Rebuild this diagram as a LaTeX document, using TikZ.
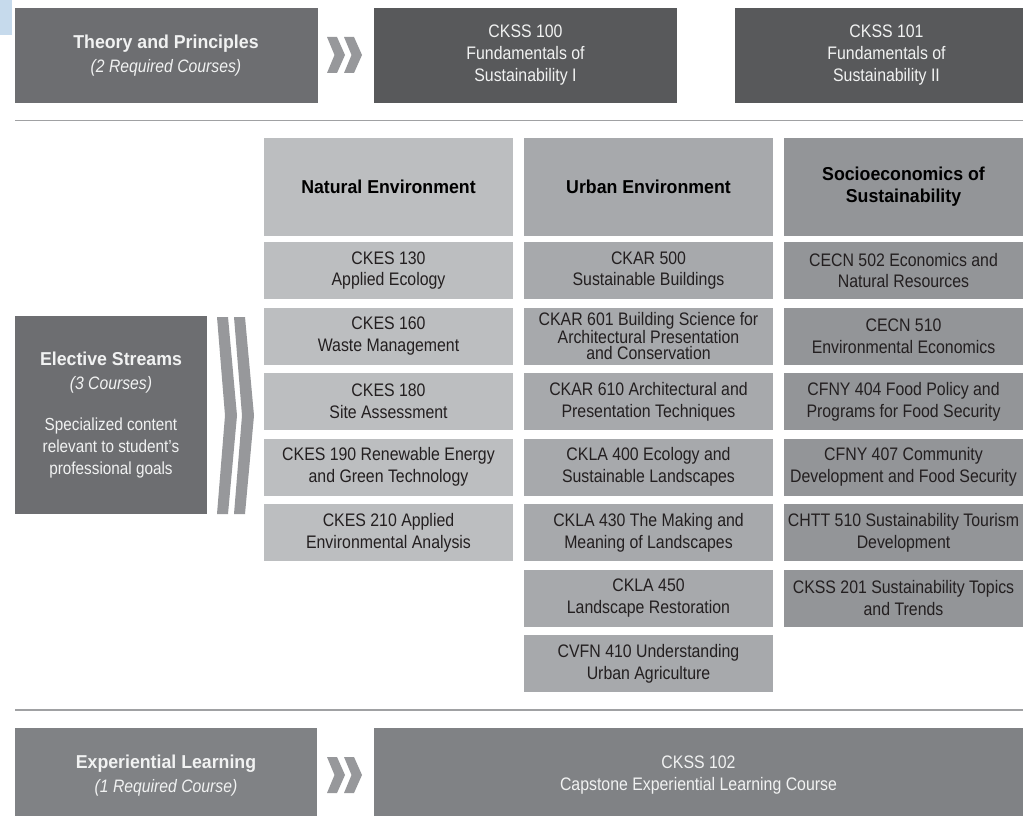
\documentclass[tikz,border=0pt]{standalone}
\usepackage{fontspec}
\setmainfont{Liberation Sans}[UprightFeatures={FakeStretch=0.875},
  ItalicFeatures={FakeStretch=0.875}, BoldFeatures={FakeStretch=0.95}]

\definecolor{strip}{HTML}{C6DAEC}
\definecolor{reqgray}{HTML}{6D6E71}
\definecolor{coredark}{HTML}{58595B}
\definecolor{natgray}{HTML}{BCBEC0}
\definecolor{urbgray}{HTML}{A7A9AC}
\definecolor{socgray}{HTML}{939598}
\definecolor{expgray}{HTML}{808285}
\definecolor{chevgray}{HTML}{97989B}
\definecolor{rulegray}{HTML}{A0A1A3}
\definecolor{lighttext}{HTML}{F1F2F2}
\definecolor{darktext}{HTML}{231F20}

\tikzset{every picture/.style={line width=0.75pt}}
\tikzset{
  block/.style={inner sep=0pt, align=center, text=lighttext,
    font=\fontsize{13.6}{16.5}\selectfont},
  topbox/.style={block, minimum width=227.25pt, minimum height=71.25pt},
  hdrbox/.style={inner sep=0pt, align=center, text=black, minimum height=73.5pt,
    font=\fontsize{14}{16.5}\selectfont\bfseries},
  course/.style={inner sep=0pt, align=center, text=darktext, minimum height=42.75pt,
    font=\fontsize{13.6}{16.3}\selectfont},
  natcol/.style={fill=natgray, minimum width=186.75pt},
  urbcol/.style={fill=urbgray, minimum width=186.75pt},
  soccol/.style={fill=socgray, minimum width=179.25pt},
  chevron/.style={fill=chevgray, draw=none},
  sepline/.style={draw=rulegray, line width=1.1pt},
}

\begin{document}
\begin{tikzpicture}[x=0.75pt,y=0.75pt,yscale=-1,xscale=1]
\useasboundingbox (0,0) rectangle (1023,816);
\clip (0,0) rectangle (1023,816);

%Shape: Rectangle
\fill[strip] (0,0) rectangle (12,35);

% Theory and Principles row
\node[topbox, fill=reqgray] (theory) at (166,55.5)
  {{\fontsize{14}{16.5}\selectfont\bfseries Theory and Principles}\\[1pt]
   {\fontsize{13.5}{16}\selectfont\itshape (2 Required Courses)}};
\node[topbox, fill=coredark] (ckss100) at (525.5,55.5)
  {CKSS 100\\Fundamentals of\\Sustainability I};
\node[topbox, fill=coredark] (ckss101) at (886.5,55.5)
  {CKSS 101\\Fundamentals of\\Sustainability II};
%Shape: Chevrons
\foreach \dx in {0,17}
  \fill[chevron] (327+\dx,37) -- (337+\dx,37) -- (345+\dx,55) -- (337+\dx,73) -- (327+\dx,73) -- (334.5+\dx,55) -- cycle;

%Straight Lines
\draw[sepline] (15,120.5) -- (1023,120.5);

% Elective Streams
\node[block, fill=reqgray, minimum width=144pt, minimum height=148.5pt] (elective) at (111,415)
  {{\fontsize{14}{16.5}\selectfont\bfseries Elective Streams}\\[2pt]
   {\fontsize{13.5}{16}\selectfont\itshape (3 Courses)}\\[14pt]
   {\fontsize{13.1}{16.5}\selectfont Specialized content}\\
   {\fontsize{13.1}{16.5}\selectfont relevant to student’s}\\
   {\fontsize{13.1}{16.5}\selectfont professional goals}};
%Shape: Chevrons
\foreach \dx in {0,17}
  \fill[chevron] (217+\dx,317) -- (228+\dx,317) -- (237+\dx,415.5) -- (228+\dx,514) -- (217+\dx,514) -- (225+\dx,415.5) -- cycle;

% Stream headers
\node[hdrbox, natcol] (natHead) at (388.5,187) {Natural Environment};
\node[hdrbox, urbcol] (urbHead) at (648.5,187) {Urban Environment};
\node[hdrbox, soccol] (socHead) at (903.5,187) {Socioeconomics of\\Sustainability};

% Natural Environment
\node[course, natcol] (nat1) at (388.5,270.5) {CKES 130\\Applied Ecology};
\node[course, natcol] (nat2) at (388.5,336) {CKES 160\\Waste Management};
\node[course, natcol] (nat3) at (388.5,401.5) {CKES 180\\Site Assessment};
\node[course, natcol] (nat4) at (388.5,467) {CKES 190 Renewable Energy\\and Green Technology};
\node[course, natcol] (nat5) at (388.5,532.5) {CKES 210 Applied\\Environmental Analysis};

% Urban Environment
\node[course, urbcol] (urb1) at (648.5,270.5) {CKAR 500\\Sustainable Buildings};
\node[course, urbcol, font=\fontsize{13.6}{12.2}\selectfont] (urb2) at (648.5,336)
  {CKAR 601 Building Science for\\Architectural Presentation\\and Conservation};
\node[course, urbcol] (urb3) at (648.5,401.5) {CKAR 610 Architectural and\\Presentation Techniques};
\node[course, urbcol] (urb4) at (648.5,467) {CKLA 400 Ecology and\\Sustainable Landscapes};
\node[course, urbcol] (urb5) at (648.5,532.5) {CKLA 430 The Making and\\Meaning of Landscapes};
\node[course, urbcol] (urb6) at (648.5,598) {CKLA 450\\Landscape Restoration};
\node[course, urbcol] (urb7) at (648.5,663.5) {CVFN 410 Understanding\\Urban Agriculture};

% Socioeconomics of Sustainability
\node[course, soccol] (soc1) at (903.5,270.5) {CECN 502 Economics and\\Natural Resources};
\node[course, soccol] (soc2) at (903.5,336) {CECN 510\\Environmental Economics};
\node[course, soccol] (soc3) at (903.5,401.5) {CFNY 404 Food Policy and\\Programs for Food Security};
\node[course, soccol] (soc4) at (903.5,467) {CFNY 407 Community\\Development and Food Security};
\node[course, soccol] (soc5) at (903.5,532.5) {CHTT 510 Sustainability Tourism\\Development};
\node[course, soccol] (soc6) at (903.5,598) {CKSS 201 Sustainability Topics\\and Trends};

%Straight Lines
\draw[sepline] (15,710) -- (1023,710);

% Experiential Learning row
\node[topbox, fill=expgray, minimum width=226.5pt] (experiential) at (166,775.5)
  {{\fontsize{14}{16.5}\selectfont\bfseries Experiential Learning}\\[1pt]
   {\fontsize{13.5}{16}\selectfont\itshape (1 Required Course)}};
\node[topbox, fill=expgray, minimum width=486.75pt] (capstone) at (698.5,775.5)
  {CKSS 102\\Capstone Experiential Learning Course};
%Shape: Chevrons
\foreach \dx in {0,17}
  \fill[chevron] (327+\dx,757) -- (337+\dx,757) -- (345+\dx,775) -- (337+\dx,793) -- (327+\dx,793) -- (334.5+\dx,775) -- cycle;

\end{tikzpicture}
\end{document}
